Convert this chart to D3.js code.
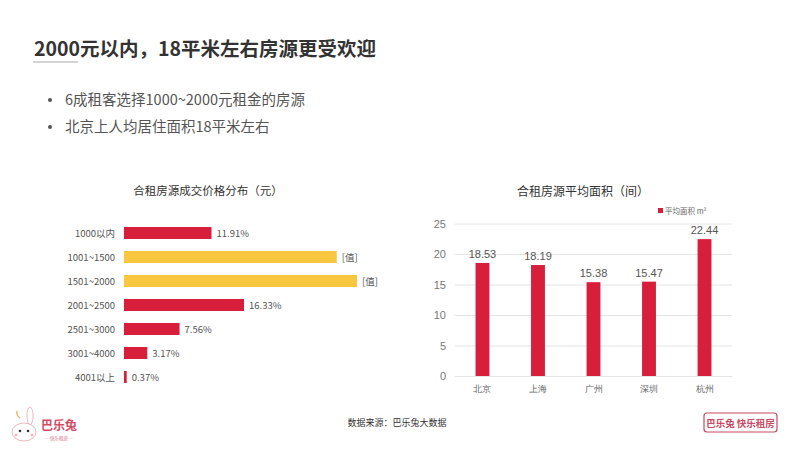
<!DOCTYPE html>
<html lang="zh">
<head>
<meta charset="utf-8">
<title>合租房源</title>
<script src="https://cdn.jsdelivr.net/npm/d3@7/dist/d3.min.js"></script>
<style>
  body { margin: 0; background: #fff; }
  svg { font-family: "Noto Sans CJK SC", "Noto Sans", sans-serif; }
</style>
</head>
<body>
<div id="chart"></div>
<script>
// price distribution (left)
const priceCats = ["1000以内", "1001~1500", "1501~2000", "2001~2500", "2501~3000", "3001~4000", "4001以上"];
const priceVals = [11.91, 28.95, 31.71, 16.33, 7.56, 3.17, 0.37];
const priceLabels = ["11.91%", "[值]", "[值]", "16.33%", "7.56%", "3.17%", "0.37%"];
const priceHighlight = [false, true, true, false, false, false, false];

// average area (right)
const cities = ["北京", "上海", "广州", "深圳", "杭州"];
const areaVals = [18.53, 18.19, 15.38, 15.47, 22.44];
const areaTicks = [0, 5, 10, 15, 20, 25];

const bullets = ["6成租客选择1000~2000元租金的房源", "北京上人均居住面积18平米左右"];

const RED = "#d71f3c", YELLOW = "#f8c73f";

const svg = d3.select("#chart").append("svg")
    .attr("width", 800).attr("height", 450);

// heading
svg.append("text").attr("x", 34).attr("y", 56)
    .attr("font-size", 19.5).attr("font-weight", "bold").attr("fill", "#333")
    .text("2000元以内，18平米左右房源更受欢迎");
svg.append("line").attr("x1", 33).attr("x2", 78).attr("y1", 62).attr("y2", 62)
    .attr("stroke", "#aaa").attr("stroke-width", 1);

bullets.forEach((b, i) => {
    svg.append("circle").attr("cx", 50).attr("cy", 100 + i * 27).attr("r", 2).attr("fill", "#555");
    svg.append("text").attr("x", 65).attr("y", 105 + i * 27)
        .attr("font-size", 14.5).attr("fill", "#555").text(b);
});

// ---------- left chart ----------
svg.append("text").attr("x", 208).attr("y", 195).attr("text-anchor", "middle")
    .attr("font-size", 11.5).attr("fill", "#333").text("合租房源成交价格分布（元）");

const xL = d3.scaleLinear().domain([0, 31.71]).range([124, 357]);
const yL = d3.scaleBand().domain(priceCats).range([221, 389]).paddingInner(0.5).paddingOuter(0.25);

const left = svg.append("g");
left.selectAll("rect").data(priceCats).enter().append("rect")
    .attr("x", xL(0))
    .attr("y", d => yL(d))
    .attr("width", (d, i) => xL(priceVals[i]) - xL(0))
    .attr("height", yL.bandwidth())
    .attr("fill", (d, i) => priceHighlight[i] ? YELLOW : RED);

left.selectAll("text.cat").data(priceCats).enter().append("text")
    .attr("class", "cat")
    .attr("x", 115).attr("y", d => yL(d) + yL.bandwidth() / 2 + 3.5)
    .attr("text-anchor", "end").attr("font-size", 9.5).attr("fill", "#555")
    .text(d => d);

left.selectAll("text.val").data(priceCats).enter().append("text")
    .attr("class", "val")
    .attr("x", (d, i) => xL(priceVals[i]) + 5)
    .attr("y", d => yL(d) + yL.bandwidth() / 2 + 3.5)
    .attr("font-size", 9.5).attr("fill", "#555")
    .text((d, i) => priceLabels[i]);

// ---------- right chart ----------
svg.append("text").attr("x", 583).attr("y", 196).attr("text-anchor", "middle")
    .attr("font-size", 12).attr("fill", "#333").text("合租房源平均面积（间）");

const xR = d3.scaleBand().domain(cities).range([455, 732]).paddingInner(0.75).paddingOuter(0.37);
const yR = d3.scaleLinear().domain([0, 25]).range([376, 223.5]);

const right = svg.append("g");
right.append("g")
    .attr("transform", "translate(455,0)")
    .call(d3.axisLeft(yR).tickValues(areaTicks).tickSize(-277).tickPadding(9))
    .call(g => g.select(".domain").remove())
    .call(g => g.selectAll("line").attr("stroke", "#e4e4e4"))
    .call(g => g.selectAll("text").attr("font-size", 11).attr("fill", "#777")
        .attr("font-family", "Liberation Sans, Arial, sans-serif"));

right.append("g")
    .attr("transform", "translate(0,376)")
    .call(d3.axisBottom(xR).tickSize(0).tickPadding(10))
    .call(g => g.select(".domain").attr("stroke", "#e4e4e4"))
    .call(g => g.selectAll("text").attr("font-size", 9).attr("fill", "#666"));

right.selectAll("rect").data(cities).enter().append("rect")
    .attr("x", d => xR(d))
    .attr("y", (d, i) => yR(areaVals[i]))
    .attr("width", xR.bandwidth())
    .attr("height", (d, i) => yR(0) - yR(areaVals[i]))
    .attr("fill", RED);

right.selectAll("text.val").data(cities).enter().append("text")
    .attr("class", "val")
    .attr("x", d => xR(d) + xR.bandwidth() / 2)
    .attr("y", (d, i) => yR(areaVals[i]) - 5)
    .attr("text-anchor", "middle").attr("font-size", 11).attr("fill", "#555")
    .attr("font-family", "Liberation Sans, Arial, sans-serif")
    .text((d, i) => areaVals[i].toFixed(2));

// legend
svg.append("rect").attr("x", 658).attr("y", 208).attr("width", 5).attr("height", 5).attr("fill", RED);
svg.append("text").attr("x", 665).attr("y", 213.5).attr("font-size", 7.5).attr("fill", "#666")
    .text("平均面积 m²");

// ---------- footer ----------
svg.append("text").attr("x", 397).attr("y", 426).attr("text-anchor", "middle")
    .attr("font-size", 9).attr("fill", "#333").text("数据来源：巴乐兔大数据");

// left logo: little bunny + name
const logo = svg.append("g").attr("transform", "translate(8,408)");
logo.append("ellipse").attr("cx", 22).attr("cy", 8).attr("rx", 3).attr("ry", 9)
    .attr("fill", "#fff").attr("stroke", "#e6a7b0").attr("stroke-width", 0.8);
logo.append("ellipse").attr("cx", 16).attr("cy", 24).attr("rx", 12).attr("ry", 9)
    .attr("fill", "#fff").attr("stroke", "#e6a7b0").attr("stroke-width", 0.8);
logo.append("circle").attr("cx", 12).attr("cy", 23).attr("r", 1.3).attr("fill", "#333");
logo.append("circle").attr("cx", 20).attr("cy", 23).attr("r", 1.3).attr("fill", "#333");
logo.append("circle").attr("cx", 8).attr("cy", 27).attr("r", 1.5).attr("fill", "#f5b6c1");
logo.append("circle").attr("cx", 24).attr("cy", 27).attr("r", 1.5).attr("fill", "#f5b6c1");
logo.append("path").attr("d", "M12,10 q-4,-3 -3,-7").attr("fill", "none")
    .attr("stroke", "#f0a050").attr("stroke-width", 1.2);
svg.append("text").attr("x", 41).attr("y", 430).attr("font-size", 12).attr("font-weight", "bold")
    .attr("fill", "#d24b63").text("巴乐兔");
svg.append("text").attr("x", 59).attr("y", 440).attr("text-anchor", "middle")
    .attr("font-size", 4.5).attr("fill", "#d96a80").text("— 快乐租房 —");

// right logo
svg.append("rect").attr("x", 704).attr("y", 413).attr("width", 73).attr("height", 19).attr("rx", 3)
    .attr("fill", "#fff").attr("stroke", "#c94a62").attr("stroke-width", 1.2);
svg.append("text").attr("x", 740.5).attr("y", 426.5).attr("text-anchor", "middle")
    .attr("font-size", 9.5).attr("font-weight", "bold").attr("fill", "#c94a62")
    .text("巴乐兔 快乐租房");
</script>
</body>
</html>
